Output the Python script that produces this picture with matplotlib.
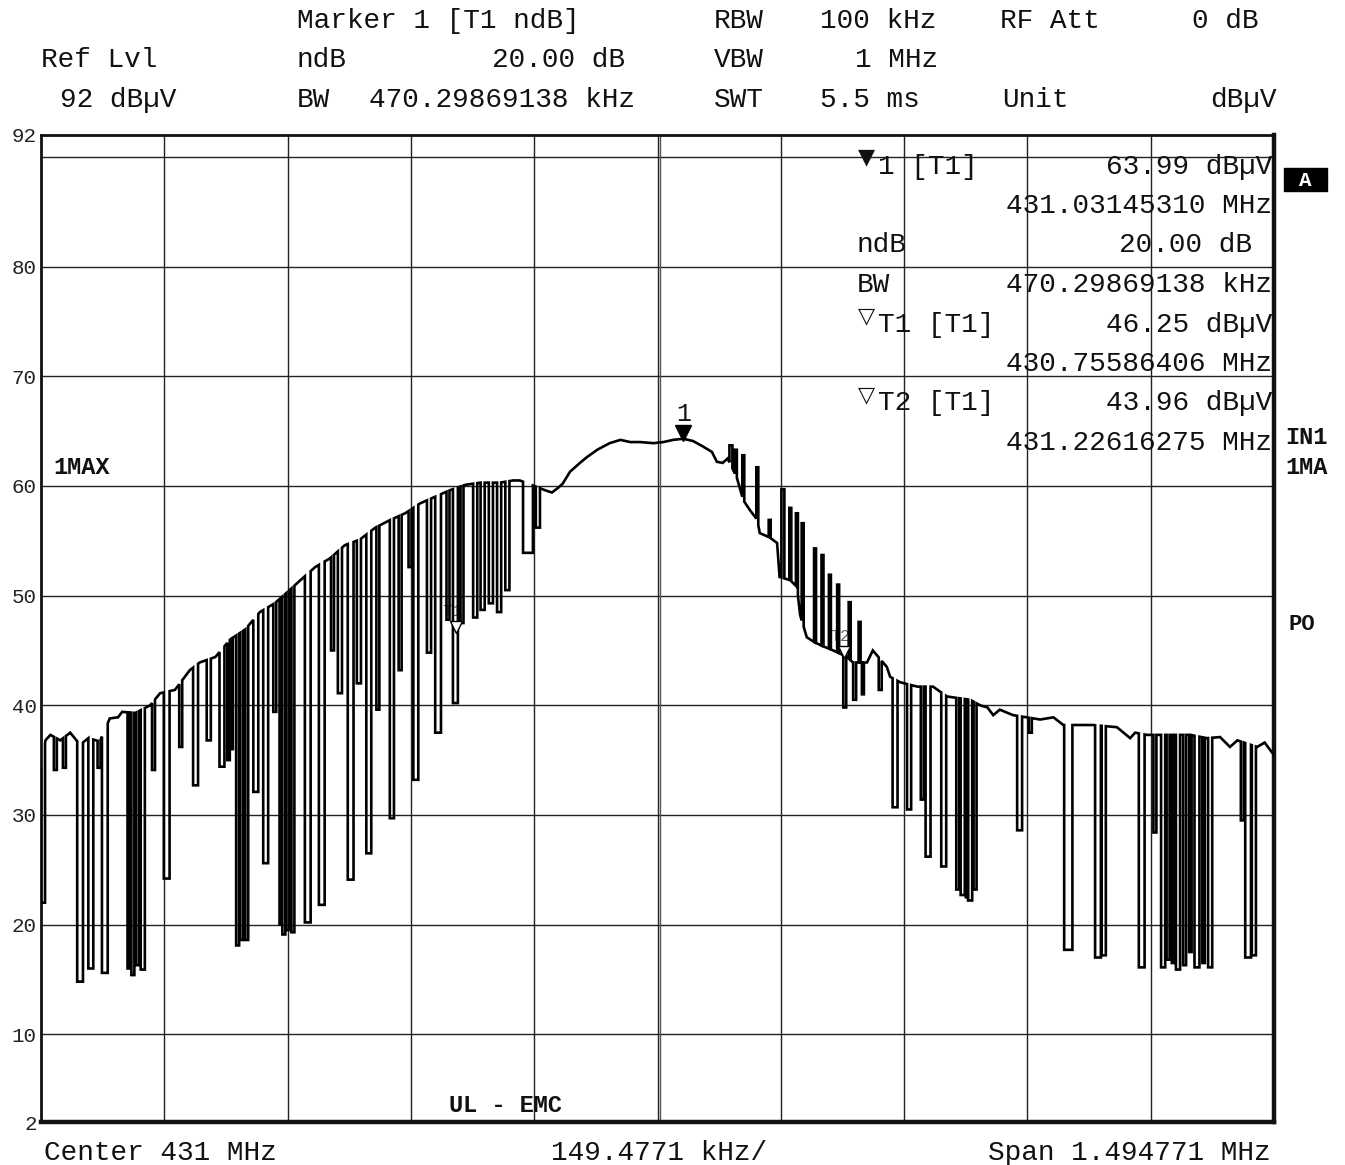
import numpy as np
import matplotlib.pyplot as plt
from matplotlib.patches import Rectangle

W, H = 1345, 1165
MONO = 'Liberation Mono'

CENTER = 431.0        # MHz
SPAN = 1.494771       # MHz
REF_LVL = 92
LOW_LVL = 2

# upper envelope of the max-hold trace: offset from centre (kHz), level (dBuV)
env_khz = [-747, -742, -736, -724, -712, -700, -690, -676, -664, -654, -649, -633,
           -615, -603, -585, -567, -555, -536, -518, -500, -482, -464, -446, -433,
           -415, -397, -379, -361, -342, -324, -306, -288, -270, -252, -233, -215,
           -191, -175, -167, -146, -136, -128, -121, -115, -106, -94, -86, -73,
           -58, -45, -33, -21, -5, 7, 19, 31, 43, 55, 66, 72, 79, 85,
           96, 104, 112, 121, 124, 136, 145, 148, 161, 169, 173, 181, 189, 197,
           213, 230, 237, 254, 261, 278, 282, 294, 315, 334, 351, 379, 391, 400,
           407, 415, 431, 464, 480, 492, 528, 557, 573, 579, 593, 646, 666, 682,
           694, 703, 727, 736, 747]
env_db = [34.1, 36.8, 37.3, 36.8, 37.5, 36.4, 37.0, 36.7, 38.8, 38.9, 39.4, 39.3,
          40.0, 41.1, 41.4, 43.2, 43.9, 44.4, 46.0, 46.9, 48.5, 49.3, 50.5, 51.4,
          52.6, 53.4, 54.6, 55.1, 56.2, 56.9, 57.5, 58.4, 59.0, 59.6, 60.1, 60.3,
          60.3, 60.5, 60.5, 59.9, 59.6, 59.4, 59.8, 60.2, 61.3, 62.1, 62.6, 63.3,
          63.9, 64.2, 64.0, 64.0, 63.9, 64.0, 64.2, 64.3, 64.1, 63.6, 63.1, 62.2, 62.1, 62.5,
          60.8, 58.7, 57.8, 56.9, 55.7, 55.3, 54.8, 51.7, 51.4, 50.8, 48.2, 46.2, 45.8, 45.5,
          45.0, 44.4, 43.9, 43.9, 45.0, 43.5, 42.6, 42.1, 41.7, 41.7, 40.8, 40.5, 40.0, 39.8,
          39.1, 39.6, 39.1, 38.7, 38.9, 38.2, 38.2, 38.0, 37.0, 37.5, 37.3, 37.3, 37.0, 37.1,
          36.2, 36.8, 36.2, 36.6, 35.5]

# notches (below envelope) and spikes (above it): centre (kHz), width (kHz), level (dBuV)
notch_khz = [-745, -730, -719, -700, -687, -677, -670, -641, -636, -630, -624, -611, -595,
             -578, -560, -544, -528, -520, -516, -509, -504, -498, -487, -475, -464,
             -457, -453, -448, -442, -424, -407, -394, -385, -372, -362, -350, -339,
             -322, -312, -300, -293, -277, -266, -254, -245, -237, -221, -212, -202,
             -192, -182, -157, -145,
             89, 95, 104, 121, 136, 152, 161, 169, 176, 191, 200, 209, 219,
             227, 233, 239, 245, 249, 270, 288, 305, 321, 328, 347, 364, 370, 375, 379, 385,
             439, 452, 498, 534, 541, 587, 603, 613, 619, 625, 631, 639, 646, 654, 662, 670,
             709, 716, 723]
notch_w = [5, 3.6, 3.6, 7, 6, 3.6, 7, 3, 3.6, 3.6, 5, 3.6, 7,
           3.6, 6, 5, 6, 3, 2.4, 3.6, 3.6, 3.6, 6, 6, 3.6,
           2.4, 3.6, 3.6, 3.6, 7, 7, 3.6, 5, 7, 5, 6, 3.6,
           5, 3.6, 3.6, 6, 5, 7, 3.6, 6, 3.6, 5, 5, 5,
           5, 5, 12, 5,
           3.6, 2.4, 2.4, 2.4, 2.4, 3.6, 2.4, 2.4, 2.4, 2.4, 2.4, 2.4, 2.4,
           3.6, 2.4, 3.6, 2.4, 2.4, 3.6, 6, 5, 3.6, 6, 6, 3.6, 5, 2.4, 5, 3.6,
           6, 3.6, 10, 7, 5, 7, 3.6, 5, 3.6, 3, 5, 3.6, 3, 6, 3, 5,
           3.6, 7, 5]
notch_db = [22.0, 34.1, 34.3, 14.8, 16.0, 34.3, 15.6, 16.0, 15.4, 16.3, 15.9, 34.1, 24.2,
            36.2, 32.7, 36.8, 34.4, 35.0, 36.0, 18.1, 18.6, 18.6, 32.1, 25.6, 39.4,
            20.0, 19.1, 19.5, 19.3, 20.2, 21.8, 45.0, 41.1, 24.1, 42.0, 26.5, 39.6,
            29.7, 43.2, 52.6, 33.2, 44.8, 37.5, 47.8, 40.2, 47.5, 48.0, 48.7, 49.3,
            48.5, 50.5, 53.9, 56.2,
            63.7, 63.3, 62.8, 61.7, 56.9, 59.7, 58.0, 57.5, 56.6, 54.3, 53.7, 51.9, 51.0,
            39.8, 49.4, 40.5, 47.6, 41.0, 41.4, 30.7, 30.5, 31.4, 26.2, 25.3, 23.2, 22.7, 22.5, 22.2, 23.2,
            28.6, 37.5, 17.7, 17.0, 17.2, 16.1, 28.4, 16.1, 16.8, 16.5, 15.9, 16.3, 17.5, 16.1, 16.5, 16.1,
            29.5, 17.0, 17.2]

# markers
mk_names = ['1', 'T1', 'T2']
mk_mhz = [431.03145310, 430.75586406, 431.22616275]
mk_db = [63.99, 46.25, 43.96]


def build_trace():
    ef = np.array(env_khz, float)
    ed = np.array(env_db, float)
    xs, ys = [], []
    k = 0
    for f, w, lvl in sorted(zip(notch_khz, notch_w, notch_db)):
        lo, hi = f - w / 2, f + w / 2
        while k < len(ef) and ef[k] < lo:
            xs.append(ef[k]); ys.append(ed[k]); k += 1
        while k < len(ef) and ef[k] <= hi:
            k += 1
        xs += [lo, lo, hi, hi]
        ys += [np.interp(lo, ef, ed), lvl, lvl, np.interp(hi, ef, ed)]
    xs += list(ef[k:]); ys += list(ed[k:])
    return CENTER + np.array(xs) / 1000.0, np.array(ys)


fig = plt.figure(figsize=(W / 100, H / 100), dpi=100)
ax = fig.add_axes([41 / W, 43 / H, 1233 / W, 987 / H])

f0 = CENTER - SPAN / 2
ax.set_xlim(f0, CENTER + SPAN / 2)
ax.set_ylim(LOW_LVL, REF_LVL)

# grid
for lv in range(10, 91, 10):
    ax.axhline(lv, color='#222', lw=1.0, zorder=1)
for i in range(1, 10):
    ax.axvline(f0 + i * SPAN / 10, color='#222', lw=1.0, zorder=1)
ax.axvline(CENTER + 0.0035, color='#555', lw=1.0, zorder=1)

fx, fy = build_trace()
ax.plot(fx, fy, color='k', lw=1.9, solid_joinstyle='miter', zorder=3)

# marker 1 (filled) and delta markers T1/T2 (hollow)
ax.plot(mk_mhz[0], mk_db[0] + 0.8, marker='v', ms=11, color='k', zorder=4)
ax.text(mk_mhz[0], mk_db[0] + 2.6, mk_names[0], ha='center', va='center',
        fontsize=18, family=MONO, color='#111')
for name, f, d in zip(mk_names[1:], mk_mhz[1:], mk_db[1:]):
    ax.plot(f, d + 0.9, marker='v', ms=9, mfc='white', mec='k', mew=1.0, zorder=4)
    ax.text(f - 0.004, d + 2.3, name, ha='center', va='center', fontsize=12,
            family=MONO, color='#666', zorder=2)

ax.set_xticks([])
yt = [2, 10, 20, 30, 40, 50, 60, 70, 80, 92]
ax.set_yticks(yt)
ax.set_yticklabels([str(v) for v in yt], family=MONO, fontsize=15, color='#222')
ax.tick_params(axis='y', length=0, pad=3)

for side, lw in [('left', 2.0), ('top', 2.0), ('right', 3.2), ('bottom', 3.2)]:
    ax.spines[side].set_linewidth(lw)
    ax.spines[side].set_color('#111')


def txt(x, y, s, ha='left', size=20, weight='normal', color='#111', family=MONO):
    fig.text(x / W, 1 - (y + 2) / H, s, ha=ha, va='center', fontsize=size,
             fontweight=weight, color=color, family=family)


# header block
txt(297, 19, 'Marker 1 [T1 ndB]')
txt(714, 19, 'RBW')
txt(820, 19, '100 kHz')
txt(1000, 19, 'RF Att')
txt(1258, 19, '0 dB', ha='right')
txt(41, 58, 'Ref Lvl')
txt(297, 58, 'ndB')
txt(625, 58, '20.00 dB', ha='right')
txt(714, 58, 'VBW')
txt(938, 58, '1 MHz', ha='right')
txt(60, 98, '92 dBµV')
txt(297, 98, 'BW')
txt(369, 98, '470.29869138 kHz')
txt(714, 98, 'SWT')
txt(820, 98, '5.5 ms')
txt(1002, 98, 'Unit')
txt(1277, 98, 'dBµV', ha='right')

# marker readout inside the grid
txt(866, 155, '▼', ha='center', size=16, family='DejaVu Sans')
txt(878, 165, '1 [T1]')
txt(1272, 165, '63.99 dBµV', ha='right')
txt(1272, 204, '431.03145310 MHz', ha='right')
txt(857, 243, 'ndB')
txt(1252, 243, '20.00 dB', ha='right')
txt(857, 283, 'BW')
txt(1272, 283, '470.29869138 kHz', ha='right')
txt(866, 314, '▽', ha='center', size=16, family='DejaVu Sans')
txt(878, 323, 'T1 [T1]')
txt(1272, 323, '46.25 dBµV', ha='right')
txt(1272, 362, '430.75586406 MHz', ha='right')
txt(866, 393, '▽', ha='center', size=16, family='DejaVu Sans')
txt(878, 401, 'T2 [T1]')
txt(1272, 401, '43.96 dBµV', ha='right')
txt(1272, 441, '431.22616275 MHz', ha='right')

# side annotations
fig.add_artist(Rectangle((1284 / W, 1 - 191 / H), 43 / W, 23 / H,
                         transform=fig.transFigure, color='k'))
txt(1305, 178, 'A', ha='center', size=15, weight='bold', color='white')
txt(1285, 435, 'IN1', size=17, weight='bold')
txt(1285, 466, '1MA', size=17, weight='bold')
txt(1288, 622, 'PO', size=16, weight='bold')
txt(53, 466, '1MAX', size=17, weight='bold')
txt(449, 1103, 'UL - EMC', size=17, weight='bold')

# footer
txt(44, 1151, 'Center 431 MHz')
txt(551, 1151, '149.4771 kHz/')
txt(1271, 1151, 'Span 1.494771 MHz', ha='right')

fig.savefig('out.png', dpi=100, facecolor='white')
